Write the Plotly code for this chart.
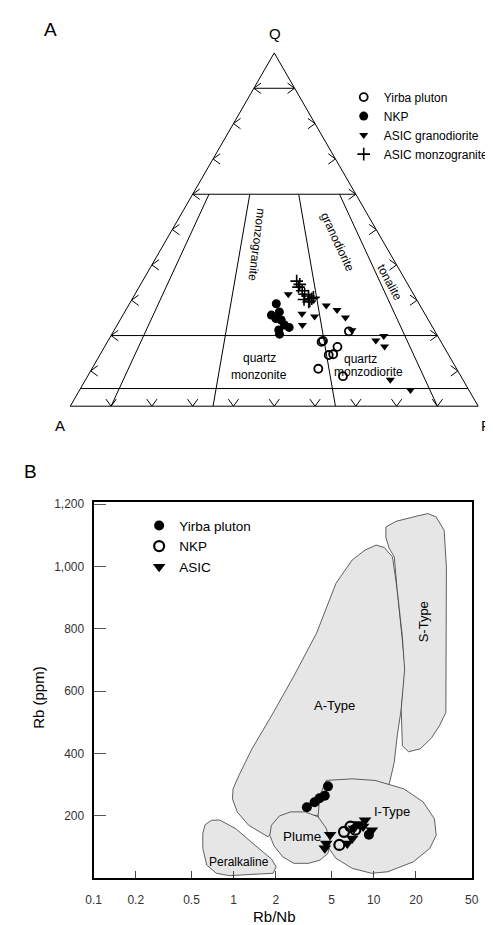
import math
import plotly.graph_objects as go

# ---------------- Panel A : QAP ternary (percent) ----------------
yirba_Q = [21.2, 18.2, 18.5, 16.8, 14.7, 14.5, 10.6, 8.5]
yirba_A = [21.1, 29.3, 28.8, 26.1, 28.2, 29.4, 33.9, 28.9]
yirba_P = [57.7, 52.5, 52.7, 57.1, 57.1, 56.1, 55.5, 62.6]

nkp_Q = [29.0, 25.8, 26.7, 24.4, 23.0, 22.3, 21.6, 20.4, 24.8]
nkp_A = [35.0, 37.8, 35.4, 36.1, 36.0, 35.2, 38.1, 38.5, 37.2]
nkp_P = [36.0, 36.4, 37.9, 39.5, 41.0, 42.5, 40.3, 41.1, 38.0]

grd_Q = [31.7, 28.5, 27.2, 25.1, 26.2, 23.0, 25.4, 21.5, 18.6, 19.9, 16.9, 7.5, 4.6]
grd_A = [30.7, 23.0, 21.0, 20.0, 30.1, 31.6, 27.4, 20.2, 15.8, 13.2, 14.5, 17.8, 14.3]
grd_P = [37.6, 48.5, 51.8, 54.9, 43.7, 45.4, 47.2, 58.3, 65.6, 66.9, 68.6, 74.7, 81.1]

mzg_Q = [35.4, 34.5, 32.7, 31.7, 31.2, 30.4, 30.2, 29.5, 30.8, 33.7, 29.8]
mzg_A = [26.8, 26.5, 26.8, 26.7, 26.0, 25.6, 27.6, 26.8, 25.0, 27.2, 26.4]
mzg_P = [37.8, 39.0, 40.5, 41.6, 42.8, 44.0, 42.2, 43.7, 44.2, 39.1, 43.8]

# QAP field boundaries
q_levels = [90, 60, 20, 5]           # horizontal Q lines
pa_ratios = [10, 35, 65, 90]         # P/(A+P) lines below Q = 60
tick_pct = [10, 20, 30, 40, 50, 60, 70, 80, 90]

# ---------------- Panel B : Rb vs Rb/Nb ----------------
yb_rbnb = [4.71, 4.47, 4.10, 3.78, 3.33, 9.23]
yb_rb = [295, 265, 257, 244, 228, 140]

nk_rbnb = [6.13, 6.82, 5.68, 7.39]
nk_rb = [149, 166, 107, 156]

asic_rbnb = [4.88, 4.58, 4.47, 8.66, 7.79, 7.21, 9.69, 7.01, 6.47, 8.39]
asic_rb = [140, 112, 96, 186, 174, 160, 154, 128, 112, 166]

atype_x = [1.76, 1.28, 1.06, 0.98, 0.99, 1.09, 1.35, 1.86, 2.69, 3.91, 5.37, 7.01, 8.66, 10.4, 11.9,
           13.6, 14.7, 16.0, 16.8, 15.7, 14.7, 14.0, 12.9, 7.39, 4.01, 2.69, 1.96]
atype_y = [133, 170, 213, 255, 287, 330, 415, 521, 649, 787, 946, 1021, 1053, 1069, 1061,
           1031, 925, 776, 670, 542, 457, 372, 303, 245, 202, 202, 159]

stype_x = [12.2, 14.4, 20.3, 24.4, 27.9, 31.8, 33.0, 33.0, 32.7, 32.7, 29.4, 25.7, 21.4, 17.7,
           16.0, 15.7, 16.6, 16.0, 14.7, 14.0, 12.9, 12.2]
stype_y = [1127, 1145, 1162, 1170, 1159, 1116, 999, 840, 681, 532, 489, 449, 415, 406,
           425, 542, 670, 776, 925, 1031, 1058, 1093]

itype_x = [4.58, 7.01, 10.2, 16.4, 22.5, 27.1, 27.9, 25.1, 19.2, 12.6, 9.63, 7.01, 5.37, 4.70,
           4.12, 4.01, 4.12]
itype_y = [314, 319, 314, 287, 245, 191, 138, 96, 53, 21, 16, 32, 64, 101, 149, 202, 266]

plume_x = [1.86, 2.12, 2.55, 3.24, 4.01, 4.58, 4.88, 4.71, 4.12, 3.42, 2.69, 2.24, 1.94, 1.81]
plume_y = [170, 200, 213, 213, 197, 160, 117, 80, 58, 48, 48, 69, 104, 138]

peralk_x = [0.625, 0.695, 0.794, 1.035, 1.42, 1.86, 2.01, 1.91, 1.42, 0.931, 0.753, 0.642, 0.602, 0.602]
peralk_y = [172, 186, 187, 159, 106, 62, 37, 16, 13, 8.5, 16, 42.5, 96, 144]

x_tickvals = [0.1, 0.2, 0.5, 1, 2, 5, 10, 20, 50]
x_ticktext = ["0.1", "0.2", "0.5", "1", "2", "5", "10", "20", "50"]
y_tickvals = [200, 400, 600, 800, 1000, 1200]
y_ticktext = ["200", "400", "600", "800", "1,000", "1,200"]

W, H = 493, 925
FONT = "Liberation Sans, Arial, Helvetica, sans-serif"
SQ3 = math.sqrt(3) / 2


def px(x):
    return x / W


def py(y):
    return 1 - y / H


def t2c(q, a, p):
    s = q + a + p
    return (p + q / 2) / s, q / s * SQ3


def c2t(x, y):
    q = y / SQ3
    p = x - q / 2
    a = 1 - p - q
    return q * 100, a * 100, p * 100


fig = go.Figure()

# --- ternary boundary lines ---
ba, bb, bc = [], [], []
for q in q_levels:
    for (aa, cc) in [(100 - q, 0), (0, 100 - q)]:
        ba.append(q); bb.append(aa); bc.append(cc)
    ba.append(None); bb.append(None); bc.append(None)
for f in pa_ratios:
    fr = f / 100
    for q in [60, 0]:
        rest = 100 - q
        ba.append(q); bb.append(rest * (1 - fr)); bc.append(rest * fr)
    ba.append(None); bb.append(None); bc.append(None)
fig.add_trace(go.Scatterternary(a=ba, b=bb, c=bc, mode="lines",
                                line=dict(color="black", width=1),
                                showlegend=False, hoverinfo="skip"))

# --- chevron tick marks along the edges ---
L = 0.0215
TH = math.radians(36)
ca, cb, cc_ = [], [], []
edges = []
for t in tick_pct:
    edges.append(((t, 100 - t, 0), 0.0))          # left edge, opens right
    edges.append(((t, 0, 100 - t), math.pi))      # right edge, opens left
    edges.append(((0, 100 - t, t), math.pi / 2))  # bottom edge, opens up
for (v, phi) in edges:
    vx, vy = t2c(*v)
    pts = []
    for sgn in (1, -1):
        ang = phi + sgn * TH
        pts.append((vx + L * math.cos(ang), vy + L * math.sin(ang)))
    for (x, y) in [pts[0], (vx, vy), pts[1]]:
        q, a, p = c2t(x, y)
        ca.append(q); cb.append(a); cc_.append(p)
    ca.append(None); cb.append(None); cc_.append(None)
fig.add_trace(go.Scatterternary(a=ca, b=cb, c=cc_, mode="lines",
                                line=dict(color="black", width=1),
                                showlegend=False, hoverinfo="skip"))

# --- ternary data ---
fig.add_trace(go.Scatterternary(a=yirba_Q, b=yirba_A, c=yirba_P, mode="markers", name="Yirba pluton",
                                marker=dict(symbol="circle-open", size=8, color="black",
                                            line=dict(width=1.8, color="black")),
                                legend="legend"))
fig.add_trace(go.Scatterternary(a=nkp_Q, b=nkp_A, c=nkp_P, mode="markers", name="NKP",
                                marker=dict(symbol="circle", size=9, color="black"),
                                legend="legend"))
fig.add_trace(go.Scatterternary(a=grd_Q, b=grd_A, c=grd_P, mode="markers", name="ASIC granodiorite",
                                marker=dict(symbol="triangle-down", size=8, color="black"),
                                legend="legend"))
fig.add_trace(go.Scatterternary(a=mzg_Q, b=mzg_A, c=mzg_P, mode="markers", name="ASIC monzogranite",
                                marker=dict(symbol="cross-thin", size=9, color="black",
                                            line=dict(width=1.6, color="black")),
                                legend="legend"))

# --- panel B fields ---
FILL = "#e6e6e6"
for xs, ys in [(atype_x, atype_y), (stype_x, stype_y), (itype_x, itype_y),
               (plume_x, plume_y), (peralk_x, peralk_y)]:
    fig.add_trace(go.Scatter(x=xs + xs[:1], y=ys + ys[:1], mode="lines", fill="toself",
                             fillcolor=FILL, line=dict(color="#3a3a3a", width=0.8),
                             showlegend=False, hoverinfo="skip", xaxis="x", yaxis="y"))

fig.add_trace(go.Scatter(x=yb_rbnb, y=yb_rb, mode="markers", name="Yirba pluton",
                         marker=dict(symbol="circle", size=10, color="black"),
                         legend="legend2"))
fig.add_trace(go.Scatter(x=nk_rbnb, y=nk_rb, mode="markers", name="NKP",
                         marker=dict(symbol="circle-open", size=10, color="black",
                                     line=dict(width=2.2, color="black")),
                         legend="legend2"))
fig.add_trace(go.Scatter(x=asic_rbnb, y=asic_rb, mode="markers", name="ASIC",
                         marker=dict(symbol="triangle-down", size=11, color="black"),
                         legend="legend2"))

tern_axis = dict(showline=True, linecolor="black", linewidth=1, showgrid=False,
                 showticklabels=False, ticks="", title=dict(text=""))

ann = []


def add_paper(text, x, y, size, angle=0, color="black", xanchor="center"):
    ann.append(dict(text=text, x=px(x), y=py(y), xref="paper", yref="paper", showarrow=False,
                    xanchor=xanchor, yanchor="middle", textangle=angle,
                    font=dict(family=FONT, size=size, color=color)))


def add_data(text, xv, yv, size, angle=0):
    ann.append(dict(text=text, x=math.log10(xv), y=yv, xref="x", yref="y", showarrow=False,
                    xanchor="center", yanchor="middle", textangle=angle,
                    font=dict(family=FONT, size=size, color="black")))


add_paper("A", 36, 17, 19)
add_paper("Q", 266.7, 21, 15)
add_paper("A", 45, 415, 15)
add_paper("P", 478, 415, 15, xanchor="left")
add_paper("monzogranite", 248.3, 233.3, 12, 97)
add_paper("granodiorite", 331.7, 230, 12, 65)
add_paper("tonalite", 385, 270.7, 12, 62)
add_paper("quartz", 251, 346.7, 12)
add_paper("monzonite", 251, 364.3, 12)
add_paper("quartz", 355, 348.3, 12)
add_paper("monzodiorite", 363.3, 360.7, 12)
add_paper("B", 15, 460.7, 19)
add_paper("Rb/Nb", 266.7, 908, 15)
add_paper("Rb (ppm)", 23.3, 688, 15, -90)
add_data("A-Type", 5.23, 553, 13)
add_data("S-Type", 22.8, 824, 13, -90)
add_data("I-Type", 13.6, 213, 13)
add_data("Plume", 3.08, 135, 13.5)
add_data("Peralkaline", 1.09, 53, 12)

fig.update_layout(
    width=W, height=H, margin=dict(l=0, r=0, t=0, b=0),
    paper_bgcolor="white", plot_bgcolor="white",
    font=dict(family=FONT, color="black"),
    ternary=dict(domain=dict(x=[px(56), px(476.7)], y=[py(400), py(35.5)]),
                 sum=100, bgcolor="white",
                 aaxis=tern_axis, baxis=tern_axis, caxis=tern_axis),
    xaxis=dict(type="log", range=[-1, math.log10(50)], domain=[px(80), px(470)],
               showline=True, mirror=True, linecolor="black", linewidth=2,
               ticks="inside", ticklen=7, tickcolor="#444", tickwidth=1,
               tickvals=x_tickvals, ticktext=x_ticktext, showgrid=False, zeroline=False,
               ticklabelstandoff=9,
               tickfont=dict(family=FONT, size=12, color="#333")),
    yaxis=dict(range=[0, 1207], domain=[py(870), py(491.7)],
               showline=True, mirror=True, linecolor="black", linewidth=2,
               ticks="inside", ticklen=12, tickcolor="#555", tickwidth=1,
               tickvals=y_tickvals, ticktext=y_ticktext, showgrid=False, zeroline=False,
               ticklabelstandoff=5,
               tickfont=dict(family=FONT, size=12, color="#333")),
    legend=dict(x=px(338), y=py(70), xanchor="left", yanchor="top",
                bgcolor="rgba(0,0,0,0)", font=dict(family=FONT, size=12, color="black"),
                tracegroupgap=0),
    legend2=dict(x=px(127), y=py(500), xanchor="left", yanchor="top",
                 bgcolor="rgba(0,0,0,0)", font=dict(family=FONT, size=13.5, color="black"),
                 tracegroupgap=0),
    annotations=ann,
)

fig.write_html("out.html")
